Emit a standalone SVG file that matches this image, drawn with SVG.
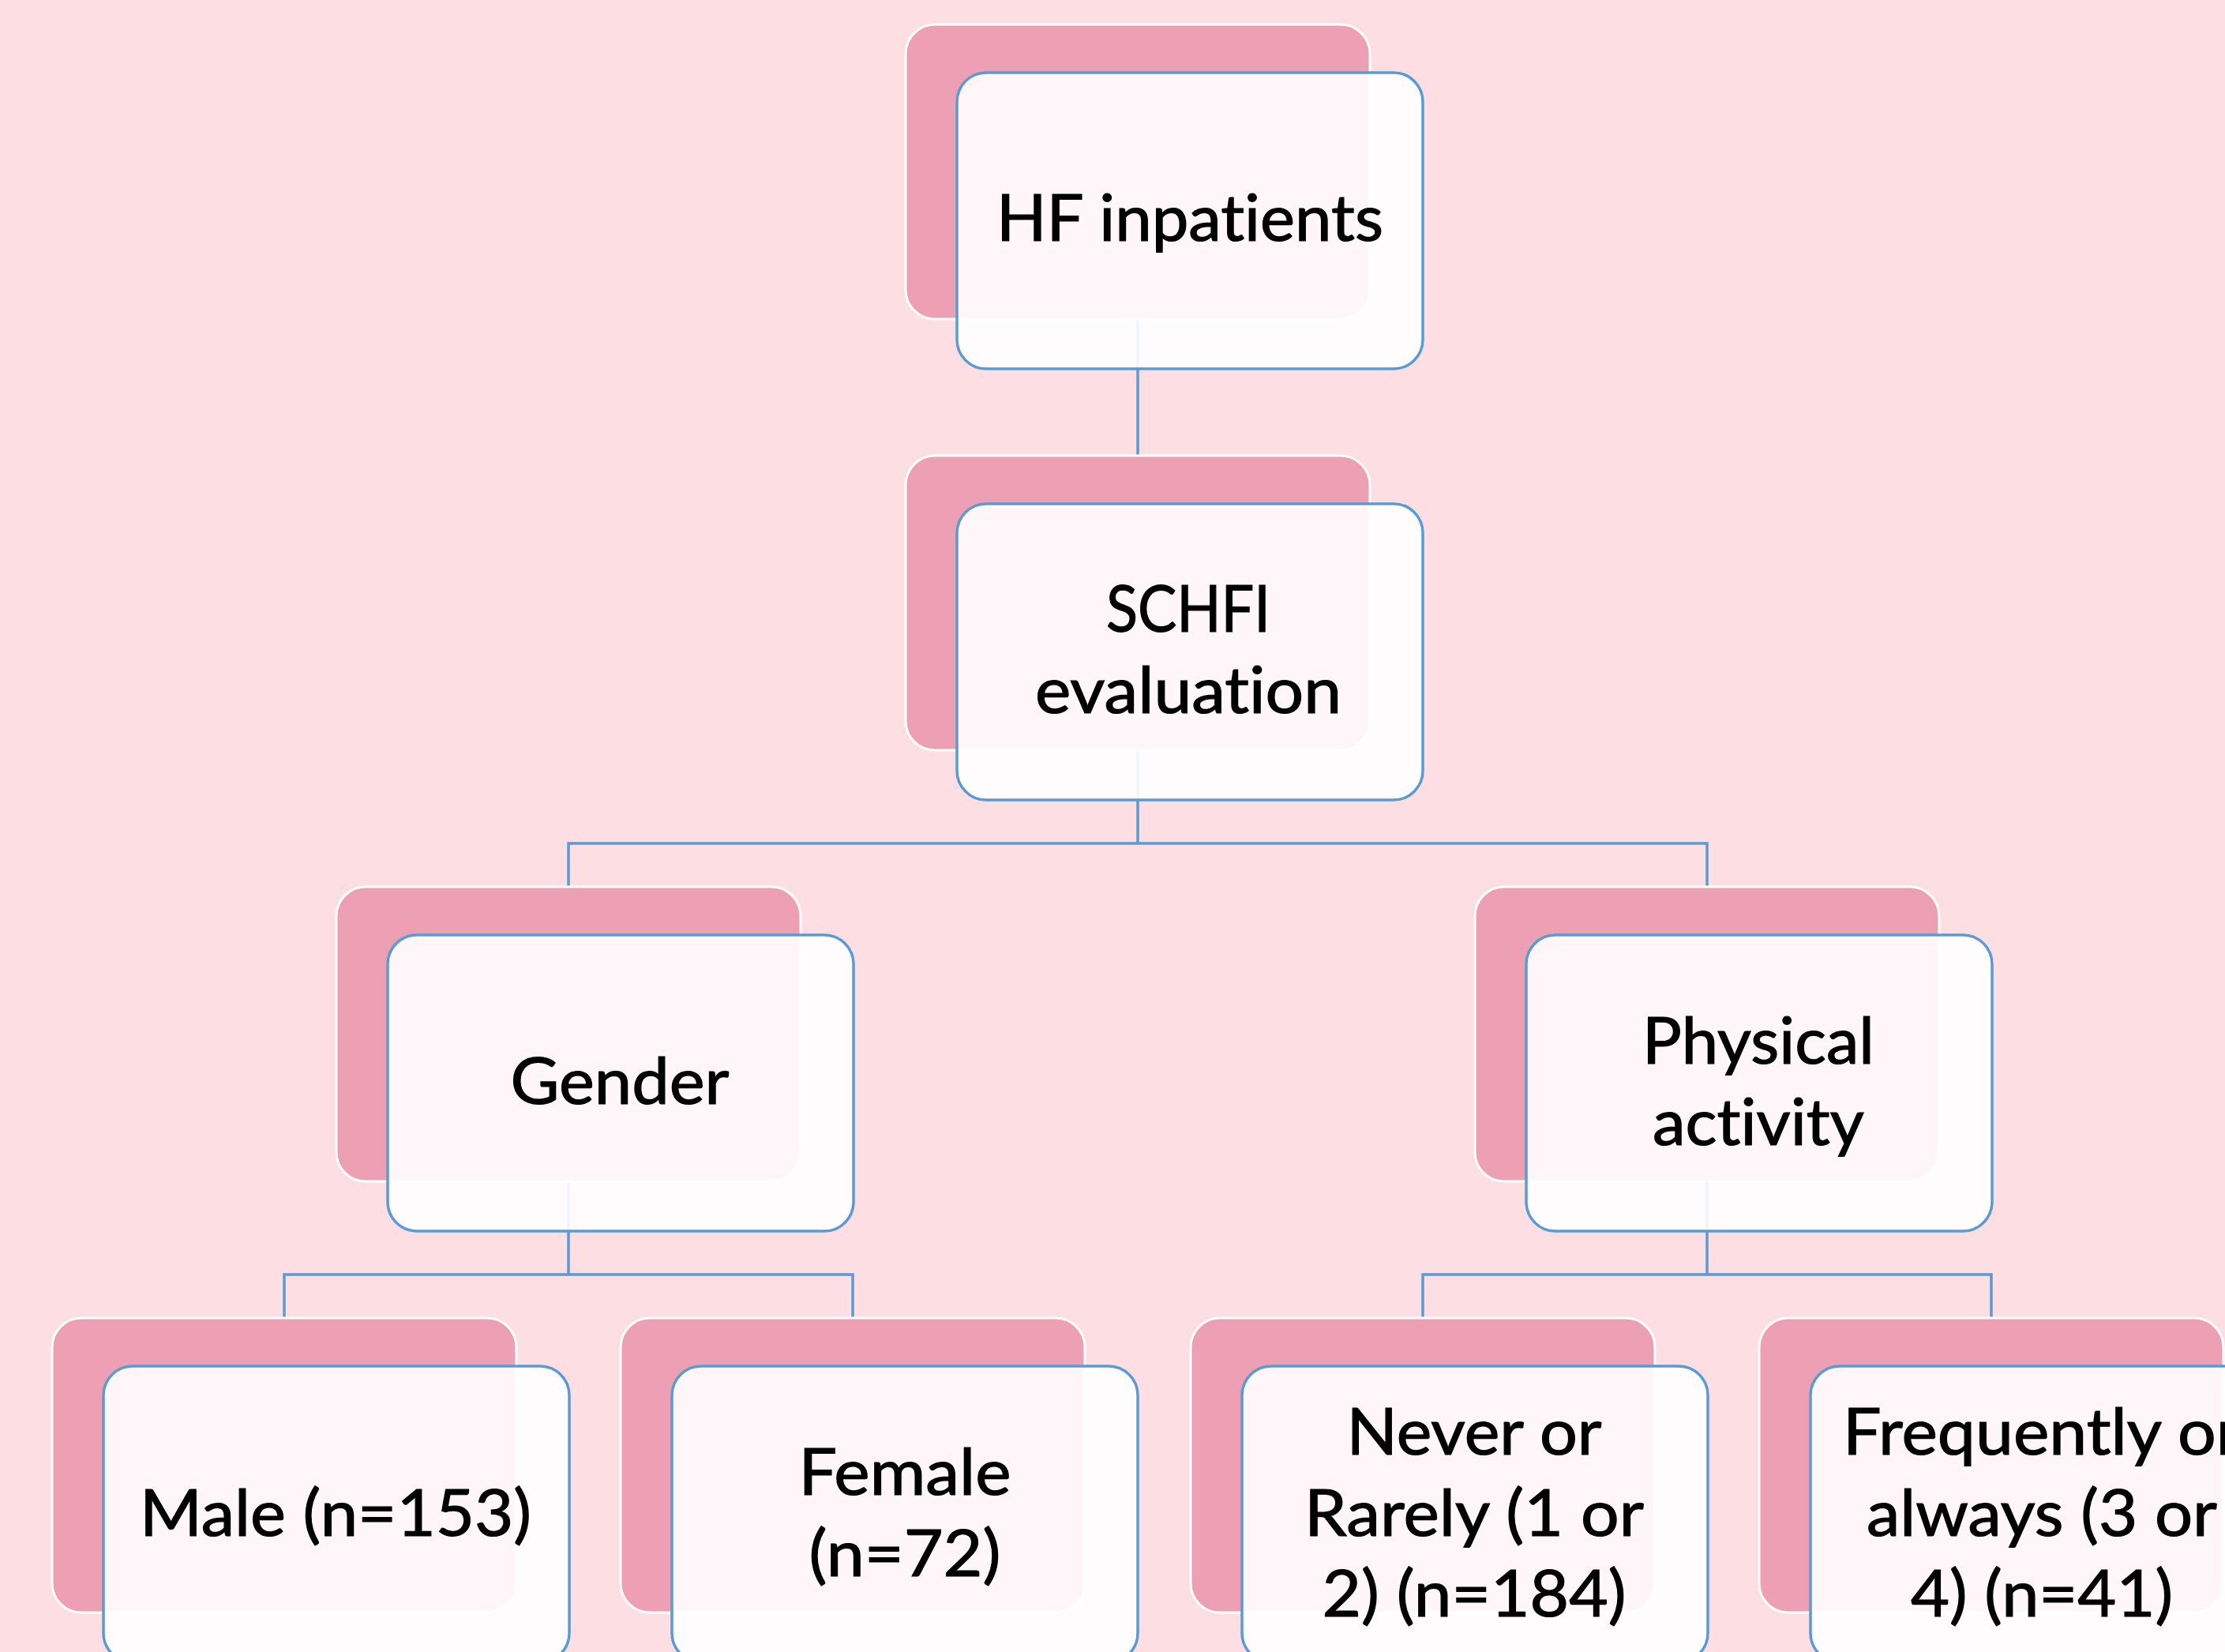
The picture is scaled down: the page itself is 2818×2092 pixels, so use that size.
<svg xmlns="http://www.w3.org/2000/svg" width="2818" height="2092" viewBox="0 0 2818 2092">
<style>
.bg{fill:#FDDEE3}
.back{fill:#EDA0B3;stroke:#FFFFFF;stroke-width:3}
.front{fill:#FFFFFF;fill-opacity:0.9;stroke:#5B9BD5;stroke-width:3.5}
.conn{fill:none;stroke:#5B9BD5;stroke-width:3.5}
.t{font-family:"Lato","Liberation Sans",sans-serif;font-size:81px;fill:#000000;stroke:#000000;stroke-width:1.2;text-anchor:middle;font-variant-ligatures:none;font-feature-settings:"liga" 0,"clig" 0}
</style>
<rect class="bg" x="0" y="0" width="2818" height="2092"/>
<g id="connectors">
<path class="conn" d="M1441,404 V577"/>
<path class="conn" d="M1441,950 V1068 M720,1123 V1068 H2162 V1123"/>
<path class="conn" d="M720,1496 V1614 M360,1669 V1614 H1080 V1669"/>
<path class="conn" d="M2162,1496 V1614 M1802,1669 V1614 H2522 V1669"/>
</g>
<g id="hf">
<rect class="back" x="1147" y="31" width="588" height="373" rx="37"/>
<rect class="front" x="1212" y="92" width="590" height="375" rx="37"/>
<text class="t" x="1507" y="305" textLength="490" lengthAdjust="spacingAndGlyphs">HF inpatients</text>
</g>
<g id="schfi">
<rect class="back" x="1147" y="577" width="588" height="373" rx="37"/>
<rect class="front" x="1212" y="638" width="590" height="375" rx="37"/>
<text class="t" x="1505" y="800" textLength="208" lengthAdjust="spacingAndGlyphs">SCHFI</text>
<text class="t" x="1505" y="903" textLength="388" lengthAdjust="spacingAndGlyphs">evaluation</text>
</g>
<g id="gender">
<rect class="back" x="426" y="1123" width="588" height="373" rx="37"/>
<rect class="front" x="491" y="1184" width="590" height="375" rx="37"/>
<text class="t" x="785" y="1398" textLength="277" lengthAdjust="spacingAndGlyphs">Gender</text>
</g>
<g id="physical">
<rect class="back" x="1868" y="1123" width="588" height="373" rx="37"/>
<rect class="front" x="1933" y="1184" width="590" height="375" rx="37"/>
<text class="t" x="2227" y="1347" textLength="294" lengthAdjust="spacingAndGlyphs">Physical</text>
<text class="t" x="2227" y="1450" textLength="268" lengthAdjust="spacingAndGlyphs">activity</text>
</g>
<g id="male">
<rect class="back" x="66" y="1669" width="588" height="373" rx="37"/>
<rect class="front" x="131" y="1730" width="590" height="375" rx="37"/>
<text class="t" x="425" y="1945" textLength="496" lengthAdjust="spacingAndGlyphs">Male (n=153)</text>
</g>
<g id="female">
<rect class="back" x="786" y="1669" width="588" height="373" rx="37"/>
<rect class="front" x="851" y="1730" width="590" height="375" rx="37"/>
<text class="t" x="1146" y="1893" textLength="269" lengthAdjust="spacingAndGlyphs">Female</text>
<text class="t" x="1146" y="1996" textLength="243" lengthAdjust="spacingAndGlyphs">(n=72)</text>
</g>
<g id="never">
<rect class="back" x="1508" y="1669" width="588" height="373" rx="37"/>
<rect class="front" x="1573" y="1730" width="590" height="375" rx="37"/>
<text class="t" x="1867" y="1842" textLength="323" lengthAdjust="spacingAndGlyphs">Never or</text>
<text class="t" x="1867" y="1945" textLength="430" lengthAdjust="spacingAndGlyphs">Rarely (1 or</text>
<text class="t" x="1867" y="2047" textLength="385" lengthAdjust="spacingAndGlyphs">2) (n=184)</text>
</g>
<g id="frequently">
<rect class="back" x="2228" y="1669" width="588" height="373" rx="37"/>
<rect class="front" x="2293" y="1730" width="590" height="375" rx="37"/>
<text class="t" x="2586" y="1842" textLength="504" lengthAdjust="spacingAndGlyphs">Frequently or</text>
<text class="t" x="2586" y="1945" textLength="444" lengthAdjust="spacingAndGlyphs">always (3 or</text>
<text class="t" x="2586" y="2047" textLength="332" lengthAdjust="spacingAndGlyphs">4) (n=41)</text>
</g>
</svg>
